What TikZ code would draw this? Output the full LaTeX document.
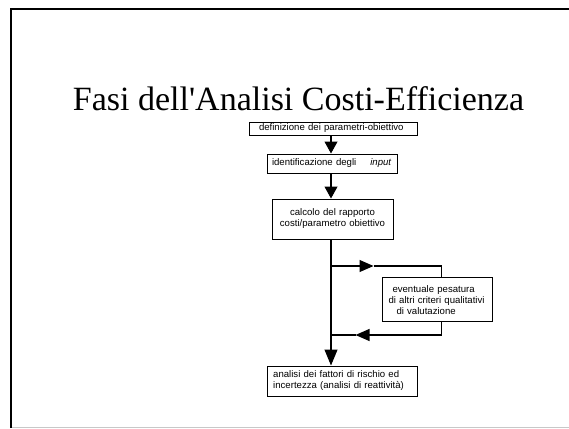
\documentclass[tikz,border=0pt]{standalone}
\usepackage{fontspec}
\setmainfont{Liberation Sans}
\newfontfamily\titlefont{Liberation Serif}[Ligatures=TeXOff]
\usetikzlibrary{arrows.meta}
\definecolor{framegray}{RGB}{200,200,200}
\begin{document}
\begin{tikzpicture}[x=1pt,y=-1pt,
  box/.style={draw, line width=1pt, inner ysep=0pt, font=\fontsize{9.6}{11}\selectfont},
  conn/.style={line width=1.1pt},
  arr/.style={conn,-{Triangle[length=12pt,width=13pt]}},
  arrbig/.style={conn,-{Triangle[length=16pt,width=13pt]}},
  arrh/.style={conn,-{Triangle[length=14pt,width=12pt]}}]
\useasboundingbox (0,0) rectangle (569,428);
% frame
\draw[line width=2pt] (11,428) -- (11,9) -- (569,9);
\draw[line width=1.5pt, framegray] (12,427.3) -- (569,427.3);
% title
\node[font=\titlefont\fontsize{34}{40}\selectfont, anchor=base, inner sep=0pt] (title) at (298.5,110) {Fasi dell'Analisi Costi-Efficienza};
% boxes
\node[box, text width=148pt, inner xsep=10pt, minimum height=13pt, align=left] (b1) at (333,128.5) {definizione dei parametri-obiettivo};
\node[box, text width=120pt, inner xsep=5pt, minimum height=19pt, align=left] (b2) at (332,163.5) {\mbox{identificazione degli\hspace{14pt}\textit{input}}};
\node[box, text width=113pt, inner xsep=4pt, minimum height=40pt, align=center] (b3) at (332.5,219) {calcolo del rapporto\\costi/parametro obiettivo};
\node[box, text width=98pt, inner xsep=6pt, minimum height=44pt, align=left] (b4) at (437.5,299.7) {\hspace*{4pt}eventuale pesatura\\di altri criteri qualitativi\\\hspace*{8pt}di valutazione};
\node[box, text width=138pt, inner xsep=6pt, minimum height=30pt, align=left] (b5) at (342.2,381) {analisi dei fattori di rischio ed\\incertezza (analisi di reattività)};
% junction coordinates
\coordinate (j1) at (331,266);
\coordinate (c1) at (441.5,266);
\coordinate (m1) at (373.5,266);
\coordinate (j2) at (331,335);
\coordinate (c2) at (441.5,335);
\coordinate (m2) at (355.5,335);
% connectors
\draw[arr] (b1.south -| j1) -- (b2.north -| j1);
\draw[arr] (b2.south -| j1) -- (b3.north -| j1);
\draw[arrbig] (b3.south -| j1) -- (b5.north -| j1);
\draw[arrh] (j1) -- (m1);
\draw[conn] (m1) -- (c1) -- (b4.north -| c1);
\draw[conn] (b4.south -| c1) -- (c2);
\draw[arrh] (c2) -- (m2);
\draw[conn] (m2) -- (j2);
\end{tikzpicture}
\end{document}
